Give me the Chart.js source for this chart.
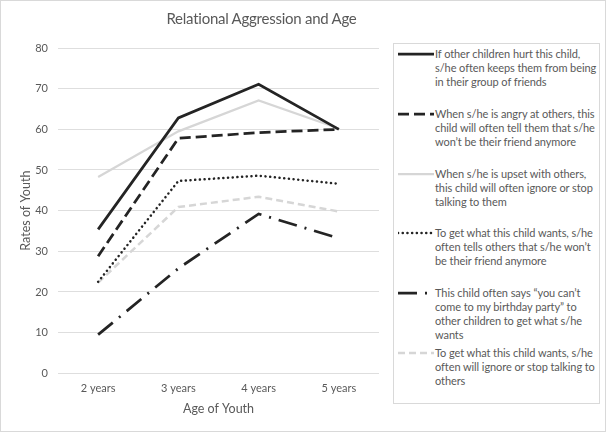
<!DOCTYPE html>
<html>
<head>
<meta charset="utf-8">
<script src="https://cdn.jsdelivr.net/npm/chart.js@4.4.1/dist/chart.umd.min.js"></script>
<style>
  html, body { margin: 0; padding: 0; background: #fff; }
  #wrap {
    position: relative; width: 606px; height: 432px;
    box-sizing: border-box; border: 1px solid #d9d9d9;
    font-family: Lato, "Open Sans", sans-serif; color: #595959;
  }
  #wrap canvas { position: absolute; left: 0; top: 0; }
  #title {
    position: absolute; left: 0; width: 521px; top: 7px;
    text-align: center; font-size: 15px; letter-spacing: -0.25px; line-height: 20px; color: #595959;
  }
  #title span { white-space: nowrap; }
  #legend {
    position: absolute; left: 392px; top: 42px; width: 207px; height: 361px;
    box-sizing: border-box; border: 1px solid #d9d9d9; background: #fff;
  }
  .item { position: absolute; left: 0; }
  .item svg { position: absolute; left: 4px; top: 0; }
  .item .txt {
    position: absolute; left: 41px; top: 0; white-space: nowrap;
    font-size: 11px; letter-spacing: -0.08px; line-height: 14px; color: #595959;
  }
</style>
</head>
<body>
<div id="wrap">
  <canvas id="chart" width="604" height="430"></canvas>
  <div id="title"><span>Relational Aggression and Age</span></div>
  <div id="legend"></div>
</div>
<script>
// categories
const ages = ["2 years", "3 years", "4 years", "5 years"];

// series values (Rates of Youth)
const hurtExclude    = [35.4, 62.8, 71.1, 60.0];
const angryNotFriend = [28.8, 57.8, 59.2, 60.0];
const upsetIgnore    = [48.3, 59.5, 67.1, 60.2];
const wantsNotFriend = [22.5, 47.3, 48.6, 46.6];
const birthdayParty  = [9.5, 25.8, 39.2, 33.2];
const wantsIgnore    = [22.3, 40.9, 43.4, 39.8];

// legend labels, one line per entry
const legendLabels = [
    ["If other children hurt this child,", "s/he often keeps them from being", "in their group of friends"],
    ["When s/he is angry at others, this", "child will often tell them that s/he", "won\u2019t be their friend anymore"],
    ["When s/he is upset with others,", "this child will often ignore or stop", "talking to them"],
    ["To get what this child wants, s/he", "often tells others that s/he won\u2019t", "be their friend anymore"],
    ["This child often says \u201cyou can\u2019t", "come to my birthday party\u201d to", "other children to get what s/he", "wants"],
    ["To get what this child wants, s/he", "often will ignore or stop talking to", "others"]
];

const dark = "#242424";
const light = "#d6d6d6";

const styles = [
    { color: dark,  width: 2.75, dash: [],             cap: "butt" },
    { color: dark,  width: 2.75, dash: [11, 5],        cap: "butt" },
    { color: light, width: 2.25, dash: [],             cap: "butt" },
    { color: dark,  width: 2.5,  dash: [0.1, 4.6],     cap: "round" },
    { color: dark,  width: 2.75, dash: [19, 8, 2, 8],  cap: "butt" },
    { color: light, width: 2.5,  dash: [7, 4],         cap: "butt" }
];
const seriesData = [hurtExclude, angryNotFriend, upsetIgnore, wantsNotFriend, birthdayParty, wantsIgnore];

document.addEventListener("DOMContentLoaded", () => {
    const ctx = document.getElementById('chart').getContext('2d');
    new Chart(ctx, {
        type: 'line',
        data: {
            labels: ages,
            datasets: seriesData.map((d, i) => ({
                label: legendLabels[i].join(' '),
                data: d,
                borderColor: styles[i].color,
                borderWidth: styles[i].width,
                borderDash: styles[i].dash,
                borderCapStyle: styles[i].cap,
                pointRadius: 0,
                tension: 0,
                fill: false
            }))
        },
        options: {
            responsive: false,
            animation: false,
            layout: { padding: { top: 47, right: 226, bottom: 16, left: 17 } },
            plugins: {
                legend: { display: false },
                tooltip: { enabled: false }
            },
            scales: {
                x: {
                    offset: true,
                    grid: { display: false, drawTicks: false },
                    border: { display: false },
                    ticks: { color: '#595959', font: { family: 'Lato', size: 11 }, padding: 9 },
                    title: { display: true, text: 'Age of Youth', color: '#595959',
                             font: { family: 'Lato', size: 12.5, lineHeight: 1 }, padding: { top: -2, bottom: 0 } }
                },
                y: {
                    min: 0, max: 80,
                    afterFit: s => { s.width = 40; },
                    grid: { color: '#dedede', lineWidth: 1, drawTicks: false },
                    border: { display: false },
                    ticks: { stepSize: 10, color: '#595959', font: { family: 'Lato', size: 11 }, padding: 10 },
                    title: { display: true, text: 'Rates of Youth', color: '#595959',
                             font: { family: 'Lato', size: 12.5 }, padding: { top: 0, bottom: 4 } }
                }
            }
        }
    });

    // legend built from the same series styles
    const legend = document.getElementById('legend');
    legendLabels.forEach((lines, i) => {
        const s = styles[i];
        const item = document.createElement('div');
        item.className = 'item';
        item.style.top = (3 + i * 59.8) + 'px';
        const dash = s.dash.length ? s.dash.join(' ') : 'none';
        item.innerHTML =
            '<svg width="36" height="14"><line x1="0" y1="7" x2="36" y2="7" stroke="' + s.color +
            '" stroke-width="' + s.width + '" stroke-dasharray="' + dash +
            '" stroke-linecap="' + s.cap + '"/></svg>' +
            '<div class="txt">' + lines.join('<br>') + '</div>';
        legend.appendChild(item);
    });
});
</script>
</body>
</html>
